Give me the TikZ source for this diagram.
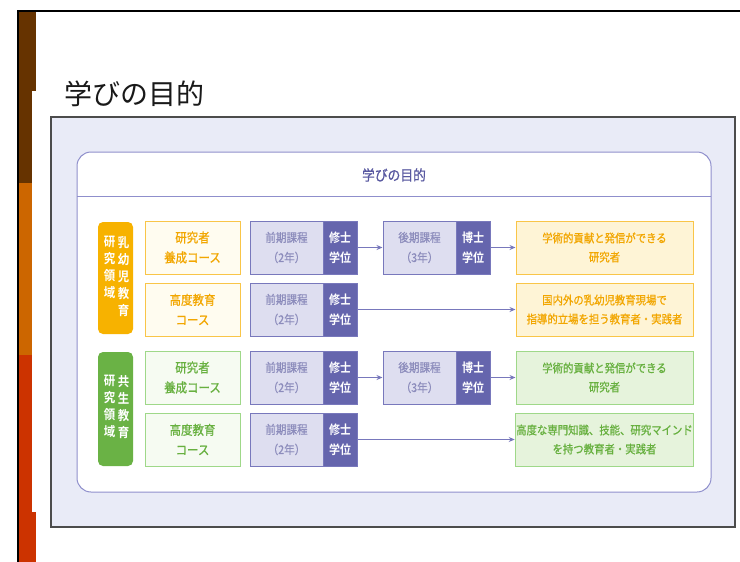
\documentclass[tikz,border=0pt]{standalone}
\usepackage{fontspec}
\setmainfont{Noto Sans CJK JP}
\newfontfamily\narrowjp[FakeStretch=0.88,FakeBold=0.8]{Noto Sans CJK JP}
\newfontfamily\narrowbold[FakeStretch=0.88]{Noto Sans CJK JP Bold}
\usetikzlibrary{arrows.meta,positioning}

\definecolor{barbrown}{HTML}{663300}
\definecolor{barorange}{HTML}{CC6600}
\definecolor{barred}{HTML}{CC3300}
\definecolor{panelfill}{HTML}{E9EBF7}
\definecolor{innerline}{HTML}{8F8FCC}
\definecolor{headtext}{HTML}{5858A0}
\definecolor{orgfill}{HTML}{F7B200}
\definecolor{orgtext}{HTML}{F2A600}
\definecolor{orgline}{HTML}{F9C548}
\definecolor{orglight}{HTML}{FFFCF0}
\definecolor{orggoal}{HTML}{FEF4D6}
\definecolor{grnfill}{HTML}{6AB245}
\definecolor{grntext}{HTML}{67B03F}
\definecolor{grnline}{HTML}{9FD889}
\definecolor{grnlight}{HTML}{F6FBF2}
\definecolor{grngoal}{HTML}{E6F3DC}
\definecolor{progfill}{HTML}{DEDEF0}
\definecolor{progline}{HTML}{7878BC}
\definecolor{progtext}{HTML}{8C8CBC}
\definecolor{degfill}{HTML}{6565AD}

\tikzset{
  fieldbox/.style={rounded corners=5pt, minimum width=35pt, inner sep=0pt},
  fieldtext/.style={text=white, anchor=north, inner sep=0pt, align=center,
    font=\narrowbold\fontsize{13}{17}\selectfont},
  coursebox/.style={draw=#1line, fill=#1light, text=#1text, line width=1pt,
    minimum width=95pt, minimum height=53pt, align=center,
    font=\narrowjp\fontsize{13}{20}\selectfont},
  goalbox/.style={draw=#1line, fill=#1goal, text=#1text, line width=1pt,
    minimum width=177pt, minimum height=53pt, align=center, inner sep=1pt,
    font=\narrowjp\fontsize{11.8}{19}\selectfont},
  progbox/.style={draw=progline, fill=progfill, text=progtext, line width=1pt,
    minimum width=73pt, minimum height=53pt, align=center,
    font=\narrowjp\fontsize{12}{20}\selectfont},
  degbox/.style={draw=progline, fill=degfill, text=white, line width=1pt,
    minimum width=34pt, minimum height=53pt, align=center, inner sep=0pt,
    font=\narrowbold\fontsize{12.5}{20}\selectfont},
  flow/.style={draw=progline, line width=1pt, -{Stealth[length=6pt,width=5pt]}}
}

\begin{document}
\begin{tikzpicture}[x=1pt, y=-1pt]
  \useasboundingbox (0,0) rectangle (740,562);
  % slide frame
  \fill[barbrown] (19,12) rectangle (36,183);
  \fill[barorange] (19,183) rectangle (36,355);
  \fill[barred] (19,355) rectangle (36,562);
  \fill[white] (32,91) rectangle (37,512);
  \draw[line width=1.2pt] (18,562) -- (18,11) -- (740,11);
  \node[anchor=west, inner sep=0pt, text=black!90, font=\fontsize{28}{30}\selectfont]
    (title) at (64,94) {学びの目的};

  % panel and inner box
  \draw[fill=panelfill, draw=black!70, line width=1.6pt] (51,117) rectangle (735,527);
  \draw[fill=white, draw=innerline, line width=1pt, rounded corners=14pt]
    (77,152) rectangle (711,492);
  \draw[innerline, line width=1pt] (77,196) -- (711,196);
  \node[text=headtext, font=\narrowjp\fontsize{14.5}{16}\selectfont]
    (head) at (394,175) {学びの目的};

  % field labels
  \node[fieldbox, fill=orgfill, minimum height=112pt] (f1) at (115.5,278) {};
  \node[fieldtext] (f1r) at (123.5,236) {乳\\幼\\児\\教\\育};
  \node[fieldtext] (f1l) at (109.5,236) {研\\究\\領\\域};
  \node[fieldbox, fill=grnfill, minimum height=114pt] (f2) at (115.5,409) {};
  \node[fieldtext] (f2r) at (123.5,375) {共\\生\\教\\育};
  \node[fieldtext] (f2l) at (109.5,375) {研\\究\\領\\域};

  % courses
  \node[coursebox=org] (c1) at (192.5,247.5) {研究者\\養成コース};
  \node[coursebox=org] (c2) at (192.5,309.5) {高度教育\\コース};
  \node[coursebox=grn] (c3) at (192.5,377.5) {研究者\\養成コース};
  \node[coursebox=grn] (c4) at (192.5,439.5) {高度教育\\コース};

  % programmes
  \node[progbox] (p1) at (286.5,247.5) {前期課程\\（2年）};
  \node[degbox] (d1) at (340,247.5) {修士\\学位};
  \node[progbox] (q1) at (419.5,247.5) {後期課程\\（3年）};
  \node[degbox] (e1) at (473,247.5) {博士\\学位};
  \node[progbox] (p2) at (286.5,309.5) {前期課程\\（2年）};
  \node[degbox] (d2) at (340,309.5) {修士\\学位};
  \node[progbox] (p3) at (286.5,377.5) {前期課程\\（2年）};
  \node[degbox] (d3) at (340,377.5) {修士\\学位};
  \node[progbox] (q3) at (419.5,377.5) {後期課程\\（3年）};
  \node[degbox] (e3) at (473,377.5) {博士\\学位};
  \node[progbox] (p4) at (286.5,439.5) {前期課程\\（2年）};
  \node[degbox] (d4) at (340,439.5) {修士\\学位};

  % goals
  \node[goalbox=org] (g1) at (604.5,247.5) {学術的貢献と発信ができる\\研究者};
  \node[goalbox=org] (g2) at (604.5,309.5) {国内外の乳幼児教育現場で\\指導的立場を担う教育者・実践者};
  \node[goalbox=grn] (g3) at (604.5,377.5) {学術的貢献と発信ができる\\研究者};
  \node[goalbox=grn] (g4) at (604.5,439.5) {高度な専門知識、技能、研究マインド\\を持つ教育者・実践者};

  \begin{scope}[flow]
    \draw (d1) to (q1);
    \draw (e1) to (g1);
    \draw (d2) to (g2);
    \draw (d3) to (q3);
    \draw (e3) to (g3);
    \draw (d4) to (g4);
  \end{scope}
\end{tikzpicture}
\end{document}
